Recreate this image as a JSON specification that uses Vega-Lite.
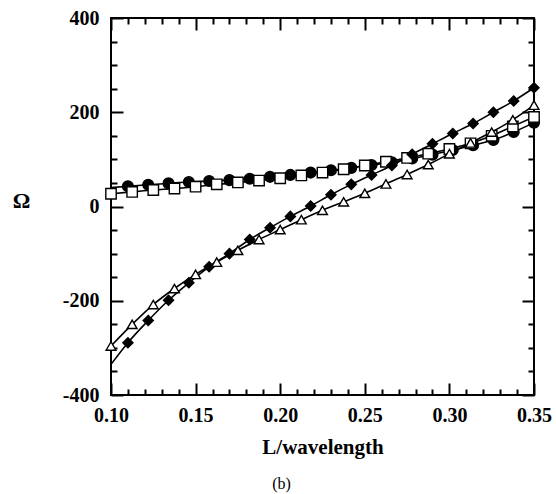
{
  "$schema": "https://vega.github.io/schema/vega-lite/v6.json",
  "autosize": "none",
  "width": 423,
  "height": 377,
  "padding": {"left": 111, "top": 18, "right": 22, "bottom": 99},
  "background": "white",
  "config": {
    "view": {"stroke": "black", "strokeWidth": 2},
    "axis": {
      "domain": false, "ticks": true, "tickColor": "black", "tickWidth": 2, "tickOpacity": 1,
      "labelFont": "Liberation Serif", "labelFontSize": 20, "labelFontWeight": "bold", "labelColor": "black",
      "titleFont": "Liberation Serif", "titleFontSize": 21, "titleFontWeight": "bold", "titleColor": "black",
      "grid": false
    }
  },
  "title": {"text": "(b)", "orient": "bottom", "anchor": "middle", "dx": -41, "offset": 19, "font": "Liberation Serif", "fontSize": 16, "fontWeight": "normal", "color": "black"},
  "data": {"values": [
    {"s":"circle","x":0.10,"y":40,"m":0},
    {"s":"circle","x":0.11,"y":43,"m":1},
    {"s":"circle","x":0.122,"y":46,"m":1},
    {"s":"circle","x":0.134,"y":49,"m":1},
    {"s":"circle","x":0.146,"y":52,"m":1},
    {"s":"circle","x":0.158,"y":54,"m":1},
    {"s":"circle","x":0.170,"y":56,"m":1},
    {"s":"circle","x":0.182,"y":59,"m":1},
    {"s":"circle","x":0.194,"y":63,"m":1},
    {"s":"circle","x":0.206,"y":67,"m":1},
    {"s":"circle","x":0.218,"y":72,"m":1},
    {"s":"circle","x":0.230,"y":77,"m":1},
    {"s":"circle","x":0.242,"y":82,"m":1},
    {"s":"circle","x":0.254,"y":88,"m":1},
    {"s":"circle","x":0.266,"y":94,"m":1},
    {"s":"circle","x":0.278,"y":102,"m":1},
    {"s":"circle","x":0.290,"y":110,"m":1},
    {"s":"circle","x":0.302,"y":120,"m":1},
    {"s":"circle","x":0.314,"y":130,"m":1},
    {"s":"circle","x":0.326,"y":141,"m":1},
    {"s":"circle","x":0.338,"y":158,"m":1},
    {"s":"circle","x":0.350,"y":178,"m":1},
    {"s":"square","x":0.1,"y":27,"m":1},
    {"s":"square","x":0.1125,"y":31,"m":1},
    {"s":"square","x":0.125,"y":35,"m":1},
    {"s":"square","x":0.1375,"y":38,"m":1},
    {"s":"square","x":0.15,"y":42,"m":1},
    {"s":"square","x":0.1625,"y":47,"m":1},
    {"s":"square","x":0.175,"y":51,"m":1},
    {"s":"square","x":0.1875,"y":55,"m":1},
    {"s":"square","x":0.2,"y":60,"m":1},
    {"s":"square","x":0.2125,"y":66,"m":1},
    {"s":"square","x":0.225,"y":72,"m":1},
    {"s":"square","x":0.2375,"y":79,"m":1},
    {"s":"square","x":0.25,"y":87,"m":1},
    {"s":"square","x":0.2625,"y":95,"m":1},
    {"s":"square","x":0.275,"y":103,"m":1},
    {"s":"square","x":0.2875,"y":112,"m":1},
    {"s":"square","x":0.3,"y":122,"m":1},
    {"s":"square","x":0.3125,"y":134,"m":1},
    {"s":"square","x":0.325,"y":150,"m":1},
    {"s":"square","x":0.3375,"y":170,"m":1},
    {"s":"square","x":0.35,"y":190,"m":1},
    {"s":"diamond","x":0.10,"y":-335,"m":0},
    {"s":"diamond","x":0.11,"y":-289,"m":1},
    {"s":"diamond","x":0.122,"y":-242,"m":1},
    {"s":"diamond","x":0.134,"y":-199,"m":1},
    {"s":"diamond","x":0.146,"y":-162,"m":1},
    {"s":"diamond","x":0.158,"y":-128,"m":1},
    {"s":"diamond","x":0.170,"y":-100,"m":1},
    {"s":"diamond","x":0.182,"y":-70,"m":1},
    {"s":"diamond","x":0.194,"y":-45,"m":1},
    {"s":"diamond","x":0.206,"y":-21,"m":1},
    {"s":"diamond","x":0.218,"y":1,"m":1},
    {"s":"diamond","x":0.230,"y":25,"m":1},
    {"s":"diamond","x":0.242,"y":47,"m":1},
    {"s":"diamond","x":0.254,"y":67,"m":1},
    {"s":"diamond","x":0.266,"y":87,"m":1},
    {"s":"diamond","x":0.278,"y":111,"m":1},
    {"s":"diamond","x":0.290,"y":133,"m":1},
    {"s":"diamond","x":0.302,"y":155,"m":1},
    {"s":"diamond","x":0.314,"y":176,"m":1},
    {"s":"diamond","x":0.326,"y":200,"m":1},
    {"s":"diamond","x":0.338,"y":224,"m":1},
    {"s":"diamond","x":0.350,"y":252,"m":1},
    {"s":"triangle","x":0.1,"y":-296,"m":1},
    {"s":"triangle","x":0.1125,"y":-250,"m":1},
    {"s":"triangle","x":0.125,"y":-208,"m":1},
    {"s":"triangle","x":0.1375,"y":-174,"m":1},
    {"s":"triangle","x":0.15,"y":-144,"m":1},
    {"s":"triangle","x":0.1625,"y":-118,"m":1},
    {"s":"triangle","x":0.175,"y":-93,"m":1},
    {"s":"triangle","x":0.1875,"y":-70,"m":1},
    {"s":"triangle","x":0.2,"y":-49,"m":1},
    {"s":"triangle","x":0.2125,"y":-28,"m":1},
    {"s":"triangle","x":0.225,"y":-8,"m":1},
    {"s":"triangle","x":0.2375,"y":10,"m":1},
    {"s":"triangle","x":0.25,"y":28,"m":1},
    {"s":"triangle","x":0.2625,"y":48,"m":1},
    {"s":"triangle","x":0.275,"y":68,"m":1},
    {"s":"triangle","x":0.2875,"y":89,"m":1},
    {"s":"triangle","x":0.3,"y":112,"m":1},
    {"s":"triangle","x":0.3125,"y":135,"m":1},
    {"s":"triangle","x":0.325,"y":158,"m":1},
    {"s":"triangle","x":0.3375,"y":184,"m":1},
    {"s":"triangle","x":0.35,"y":215,"m":1}
  ]},
  "layer": [
    {
      "mark": {"type": "line", "interpolate": "monotone", "color": "black", "strokeWidth": 1.6},
      "encoding": {
        "x": {"field": "x", "type": "quantitative", "scale": {"domain": [0.1, 0.35], "nice": false, "zero": false},
          "axis": {"orient": "bottom", "values": [0.1, 0.15, 0.2, 0.25, 0.3, 0.35], "format": ".2f", "offset": -12, "tickSize": 12, "labelPadding": 10, "title": "L/wavelength", "titlePadding": 11, "labelFlush": false}},
        "y": {"field": "y", "type": "quantitative", "scale": {"domain": [-400, 400], "nice": false, "zero": false},
          "axis": {"orient": "left", "values": [-400, -200, 0, 200, 400], "labelExpr": "'' + datum.value", "offset": -12, "tickSize": 12, "labelPadding": 12, "title": "Ω", "titleAngle": 0, "titleX": -102, "titleY": 182, "titleAlign": "center", "titleBaseline": "middle", "titleFontSize": 22, "labelFlush": false}},
        "detail": {"field": "s"}
      }
    },
    {
      "transform": [{"filter": "datum.m == 1"}],
      "mark": {"type": "point", "filled": false, "stroke": "black", "strokeWidth": 1.4, "opacity": 1},
      "encoding": {
        "x": {"field": "x", "type": "quantitative", "scale": {"domain": [0.1, 0.35], "nice": false, "zero": false},
          "axis": {"orient": "bottom", "values": [0.11,0.12,0.13,0.14,0.16,0.17,0.18,0.19,0.21,0.22,0.23,0.24,0.26,0.27,0.28,0.29,0.31,0.32,0.33,0.34], "offset": -6, "tickSize": 6, "labels": false, "title": null}},
        "y": {"field": "y", "type": "quantitative", "scale": {"domain": [-400, 400], "nice": false, "zero": false},
          "axis": {"orient": "left", "values": [-350,-300,-250,-150,-100,-50,50,100,150,250,300,350], "offset": -6, "tickSize": 6, "labels": false, "title": null}},
        "shape": {"field": "s", "type": "nominal", "scale": {"domain": ["circle","square","diamond","triangle"], "range": ["circle","square","diamond","triangle-up"]}, "legend": null},
        "fill": {"field": "s", "type": "nominal", "scale": {"domain": ["circle","square","diamond","triangle"], "range": ["black","white","black","white"]}, "legend": null},
        "size": {"field": "s", "type": "nominal", "scale": {"domain": ["circle","square","diamond","triangle"], "range": [115, 95, 140, 150]}, "legend": null}
      }
    },
    {
      "mark": {"type": "point", "opacity": 0},
      "encoding": {
        "x": {"field": "x", "type": "quantitative", "scale": {"domain": [0.1, 0.35], "nice": false, "zero": false},
          "axis": {"orient": "top", "values": [0.1, 0.15, 0.2, 0.25, 0.3, 0.35], "offset": -12, "tickSize": 12, "labels": false, "title": null}},
        "y": {"field": "y", "type": "quantitative", "scale": {"domain": [-400, 400], "nice": false, "zero": false},
          "axis": {"orient": "right", "values": [-400, -200, 0, 200, 400], "offset": -12, "tickSize": 12, "labels": false, "title": null}}
      }
    },
    {
      "mark": {"type": "point", "opacity": 0},
      "encoding": {
        "x": {"field": "x", "type": "quantitative", "scale": {"domain": [0.1, 0.35], "nice": false, "zero": false},
          "axis": {"orient": "top", "values": [0.11,0.12,0.13,0.14,0.16,0.17,0.18,0.19,0.21,0.22,0.23,0.24,0.26,0.27,0.28,0.29,0.31,0.32,0.33,0.34], "offset": -6, "tickSize": 6, "labels": false, "title": null}},
        "y": {"field": "y", "type": "quantitative", "scale": {"domain": [-400, 400], "nice": false, "zero": false},
          "axis": {"orient": "right", "values": [-350,-300,-250,-150,-100,-50,50,100,150,250,300,350], "offset": -6, "tickSize": 6, "labels": false, "title": null}}
      }
    }
  ],
  "resolve": {"scale": {"x": "independent", "y": "independent"}}
}
